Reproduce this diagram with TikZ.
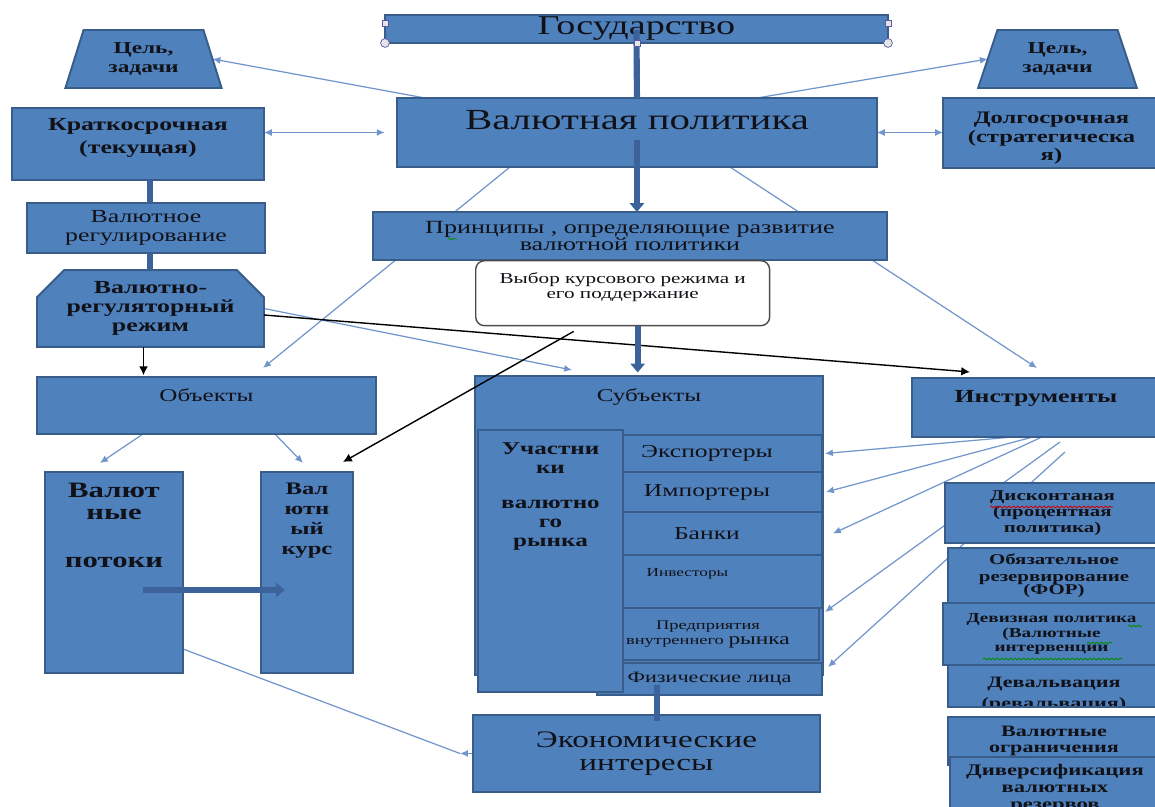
\documentclass[tikz,border=0pt]{standalone}
\usepackage{fontspec}
\setmainfont[FakeStretch=1.4]{Liberation Serif}
\usetikzlibrary{arrows.meta,shapes.geometric,shapes.misc,decorations.pathmorphing}

\definecolor{boxfill}{HTML}{4F81BD}
\definecolor{boxline}{HTML}{385D8A}
\definecolor{thinblue}{HTML}{7096CC}
\definecolor{thickblue}{HTML}{3C6399}
\definecolor{txt}{HTML}{111118}
\newcommand{\fsz}[2]{\fontsize{#1}{#2}\selectfont}

\pgfdeclarelayer{bg}
\pgfsetlayers{bg,main}

\tikzset{
  box/.style={draw=boxline, fill=boxfill, line width=1.1pt, inner sep=0pt, outer sep=0pt,
    anchor=north west, align=center, text=txt},
  lab/.style={anchor=north, inner sep=0pt, align=center, text=txt},
  lightline/.style={draw=thinblue, line width=0.7pt},
  lightarr/.style={lightline, -{Latex[length=4.5pt,width=4pt]}},
  lightboth/.style={lightline, {Latex[length=4.5pt,width=4pt]}-{Latex[length=4.5pt,width=4pt]}},
  blackarr/.style={draw=black, line width=0.8pt, -{Latex[length=5pt,width=5pt]}},
  thickline/.style={draw=thickblue, line width=3.5pt},
  thickarr/.style={thickline, -{Triangle[length=5pt,width=8pt]}},
  handle/.style={draw=gray!70!blue, fill=gray!20, line width=0.4pt},
  spellred/.style={draw=red!80!black, line width=0.5pt, decorate,
    decoration={snake, amplitude=0.5pt, segment length=2.5pt}},
  spellgreen/.style={spellred, draw=green!55!black}
}

\begin{document}
\begin{tikzpicture}[x=0.02cm, y=-0.02cm]
\useasboundingbox (0,0) rectangle (1155,807);

% top row
\node[box, minimum width=10.06cm, minimum height=0.56cm, font=\fsz{15.5}{16}] (state) at (385,15) {Государство};
\node[box, minimum width=9.6cm, minimum height=1.38cm,
  label={[lab, font=\fsz{16.6}{18}, yshift=-7pt]north:Валютная политика}] (vp) at (397,98) {};
\node[box, trapezium, trapezium left angle=72, trapezium right angle=72, trapezium stretches=true,
  minimum width=3.14cm, minimum height=1.16cm, anchor=center, font=\bfseries\fsz{9.5}{10.8}] (goalL) at (143.5,59) {Цель,\\задачи};
\node[box, trapezium, trapezium left angle=71, trapezium right angle=71, trapezium stretches=true,
  minimum width=3.18cm, minimum height=1.16cm, anchor=center, font=\bfseries\fsz{9.5}{10.8}] (goalR) at (1057.5,59) {Цель,\\задачи};
\node[box, minimum width=5.04cm, minimum height=1.44cm, font=\bfseries\fsz{10.5}{13}] (short) at (12,108) {Краткосрочная\\(текущая)\\[-4pt]};
\node[box, minimum width=4.34cm, minimum height=1.4cm,
  label={[lab, font=\bfseries\fsz{10}{10.8}, yshift=-7.5pt]north:{Долгосрочная\\(стратегическа\\я)}}] (long) at (943,98) {};

% left column
\node[box, minimum width=4.76cm, minimum height=1.0cm, font=\fsz{10.5}{11.3}] (reg) at (27,203) {Валютное\\регулирование};
\node[box, chamfered rectangle, chamfered rectangle corners={north east,north west},
  chamfered rectangle xsep=0.32cm, chamfered rectangle ysep=0.22cm,
  minimum width=4.54cm, minimum height=1.46cm, anchor=center, font=\bfseries\fsz{10.5}{11}] (regime) at (150.5,308.5) {Валютно-\\регуляторный\\режим};
\node[box, minimum width=6.78cm, minimum height=1.14cm,
  label={[lab, font=\fsz{10.2}{11}, yshift=-6.2pt]north:Объекты}] (obj) at (37,377) {};
\node[box, minimum width=2.76cm, minimum height=4.02cm,
  label={[lab, font=\bfseries\fsz{12.5}{12.5}, yshift=-6.2pt]north:{Валют\\ные\\[14.7pt]потоки}}] (flows) at (45,472) {};
\node[box, minimum width=1.84cm, minimum height=4.02cm,
  label={[lab, font=\bfseries\fsz{10}{11.3}, yshift=-6.2pt]north:{Вал\\ютн\\ый\\курс}}] (rate) at (261,472) {};

% middle
\node[box, minimum width=10.28cm, minimum height=0.96cm, font=\fsz{10.6}{10}] (princ) at (373,212) {Принципы , определяющие развитие\\валютной политики};
\node[draw=gray!60!black, fill=white, rounded corners=5pt, line width=0.8pt, anchor=north west,
  minimum width=5.88cm, minimum height=1.3cm,
  label={[lab, font=\fsz{8.6}{8.6}, yshift=-7pt]north:{Выбор курсового режима и\\его поддержание}}] (choice) at (475,260) {};
\node[box, minimum width=6.96cm, minimum height=5.98cm,
  label={[lab, font=\fsz{10.2}{11}, yshift=-6.8pt]north:Субъекты}] (subj) at (475,376) {};
\node[box, minimum width=4.6cm, minimum height=0.74cm, font=\fsz{10.4}{11}] (exp) at (592,435) {Экспортеры};
\node[box, minimum width=4.6cm, minimum height=0.8cm, font=\fsz{10.4}{11}] (imp) at (592,472) {Импортеры};
\node[box, minimum width=4.6cm, minimum height=0.86cm, font=\fsz{10.4}{11}] (banks) at (592,512) {Банки};
\node[box, minimum width=5.38cm, minimum height=1.06cm, font=\fsz{7}{8}] (inv) at (553,555) {Инвесторы\\[2pt]};
\node[box, minimum width=4.44cm, minimum height=1.04cm, font=\fsz{7.5}{8.5}] (ent) at (597,608) {Предприятия\\внутреннего {\fsz{9.5}{8.5}рынка}};
\node[box, minimum width=4.5cm, minimum height=0.64cm, font=\fsz{9}{10}] (pers) at (597,663) {Физические лица};
\node[box, minimum width=2.9cm, minimum height=5.24cm,
  label={[lab, font=\bfseries\fsz{10.2}{11}, yshift=-6.8pt]north:{Участни\\ки\\[8.8pt]валютно\\го\\рынка}}] (part) at (478,430) {};
\node[box, minimum width=6.94cm, minimum height=1.54cm, font=\fsz{13.5}{13}] (econ) at (473,715) {Экономические\\интересы};

% right column
\node[box, minimum width=4.96cm, minimum height=1.18cm,
  label={[lab, font=\bfseries\fsz{10.5}{11}, yshift=-6.8pt]north:Инструменты}] (instr) at (912,378) {};
\node[box, minimum width=4.3cm, minimum height=1.2cm, font=\bfseries\fsz{8.5}{9}] (disc) at (945,483) {Дисконтаная\\(процентная\\политика)};
\node[box, minimum width=4.24cm, minimum height=1.1cm, font=\bfseries\fsz{8.5}{9.6}] (res) at (948,548) {Обязательное\\резервирование\\[-2pt](ФОР)};
\node[box, minimum width=4.34cm, minimum height=1.24cm, font=\bfseries\fsz{7.8}{8.5}] (dev) at (943,603) {Девизная политика\\(Валютные\\интервенции};
\node[box, minimum width=4.24cm, minimum height=0.84cm,
  path picture={\node[lab, anchor=center, font=\bfseries\fsz{9}{12}] (devalt)
    at ([yshift=-5pt]path picture bounding box.center) {Девальвация\\(ревальвация)};}] (deval) at (948,665) {};
\node[box, minimum width=4.24cm, minimum height=0.96cm, font=\bfseries\fsz{9}{9.2}] (restr) at (948,717) {Валютные\\ограничения};
\node[box, minimum width=4.2cm, minimum height=1.26cm, font=\bfseries\fsz{9.2}{9.5}] (divers) at (950,757) {Диверсификация\\валютных\\резервов};

% thin blue connectors behind the boxes
\begin{pgfonlayer}{bg}
\draw[lightboth, shorten >=7pt] (short.east |- vp.west) -- (vp.west);
\draw[lightboth] (vp.east) -- (vp.east -| long.west);
\draw[lightarr] ([xshift=0.56cm]vp.north west) -- (goalL.east);
\draw[lightarr] ([xshift=-2.4cm]vp.north east) -- (goalR.west);
\draw[lightarr] ([xshift=2.26cm]vp.south west) -- ([xshift=4.52cm,yshift=0.18cm]obj.north west);
\draw[lightarr] ([xshift=-2.94cm]vp.south east) -- ([xshift=2.5cm,yshift=0.2cm]instr.north west);
\draw[lightarr] (regime.east) -- ([xshift=1.94cm,yshift=0.12cm]subj.north west);
\draw[lightarr] ([xshift=2.12cm]obj.south west) -- ([xshift=1.1cm,yshift=0.18cm]flows.north west);
\draw[lightarr] ([xshift=-2.02cm]obj.south east) -- ([xshift=0.84cm,yshift=0.18cm]rate.north west);
\draw[lightarr] (econ.west) -- ([xshift=-0.26cm]econ.west) coordinate (ebend);
\draw[lightline] (ebend) -- ([yshift=-1.53cm]flows.east);
\draw[lightarr] ([xshift=2.02cm]instr.south west) -- ([xshift=0.06cm]exp.east);
\draw[lightarr] ([xshift=2.42cm]instr.south west) -- ([xshift=0.08cm]imp.east);
\draw[lightarr] ([xshift=2.6cm]instr.south west) -- ([xshift=0.22cm]banks.east);
\draw[lightarr] ([xshift=2.96cm,yshift=-0.1cm]instr.south west) -- ([xshift=0.12cm,yshift=-0.08cm]ent.north east);
\draw[lightarr] ([xshift=3.06cm,yshift=-0.3cm]instr.south west) -- ([xshift=0.12cm,yshift=-0.08cm]pers.north east);
\end{pgfonlayer}

% black arrows
\draw[blackarr, shorten >=1pt] ([xshift=-0.14cm]regime.south) -- ([xshift=-0.14cm]regime.south |- obj.north);
\draw[blackarr] ([yshift=-0.13cm]regime.east) -- ([xshift=1.16cm,yshift=0.12cm]instr.north west);
\draw[blackarr] ([xshift=-0.98cm,yshift=-0.1cm]choice.south) -- ([xshift=-0.2cm,yshift=0.2cm]rate.north east);

% thick connectors
\draw[thickline] ([yshift=0.26cm]state.south) -- (vp.north);
\draw[thickarr] ([yshift=-0.15cm]vp.center) -- (vp.center |- princ.north);
\draw[thickarr, shorten >=2pt] ([xshift=0.3cm]choice.south) -- ([xshift=0.3cm]choice.south |- subj.north);
\draw[thickline] ([xshift=0.24cm]short.south) -- ([xshift=0.24cm]short.south |- reg.north);
\draw[thickline] ([xshift=0.08cm]reg.south) -- ([xshift=0.08cm]reg.south |- regime.north);
\draw[thickarr, shorten >=3pt] ([xshift=0.58cm,yshift=-0.35cm]flows.center) -- ([xshift=0.58cm,yshift=-0.35cm]flows.center -| rate.west);
\draw[thickline] ([xshift=-1.05cm,yshift=-0.12cm]pers.center) -- ([xshift=-1.05cm,yshift=-0.12cm]pers.center |- econ.north);

% selection handles
\foreach \hx/\hy in {385/23, 888/23, 637/43}
  \draw[handle] (\hx-3,\hy-3) rectangle (\hx+3,\hy+3);
\foreach \hx in {385,888}
  \draw[handle] (\hx,43) circle[radius=2.5pt];

% spelling marks
\draw[spellgreen] (448,239) -- (457,239);
\draw[spellred] (990,507) -- (1113,507);
\draw[spellgreen] (1128,626) -- (1142,626);
\draw[spellgreen] (1087,643) -- (1112,643);
\draw[spellgreen] (983,659) -- (1122,659);
\end{tikzpicture}
\end{document}
